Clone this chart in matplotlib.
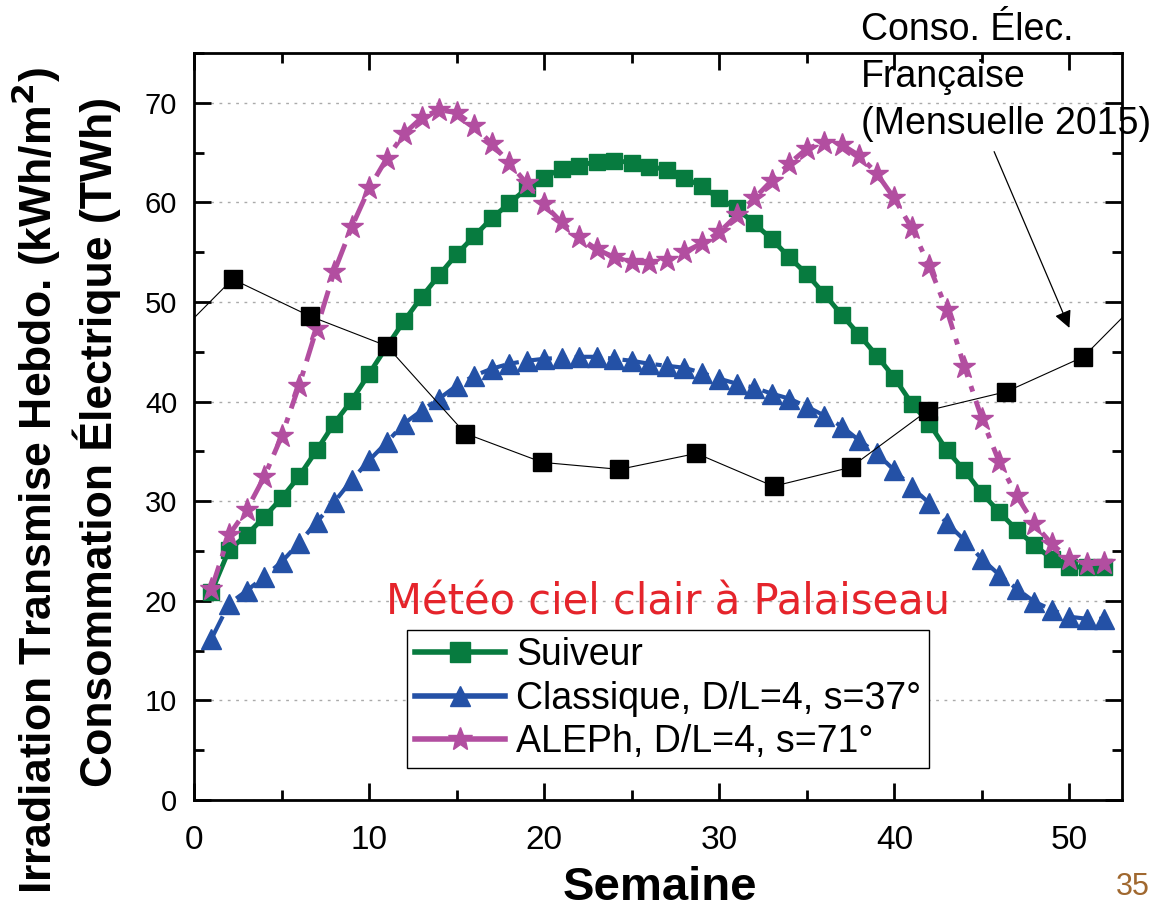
import matplotlib
matplotlib.use("Agg")
import matplotlib.pyplot as plt
from matplotlib.lines import Line2D
from matplotlib.ticker import MultipleLocator

weeks = list(range(1, 53))

suiveur = [20.9, 25.1, 26.6, 28.4, 30.3, 32.5, 35.1, 37.8, 40.1, 42.8,
           45.5, 48.1, 50.5, 52.7, 54.8, 56.6, 58.4, 59.9, 61.4, 62.5,
           63.4, 63.7, 64.1, 64.2, 64.0, 63.6, 63.3, 62.5, 61.6, 60.4,
           59.4, 57.9, 56.3, 54.5, 52.8, 50.8, 48.7, 46.7, 44.6, 42.4,
           39.8, 37.8, 35.1, 33.1, 30.8, 28.9, 27.1, 25.6, 24.2, 23.4,
           23.4, 23.4]

classique = [16.2, 19.7, 21.0, 22.4, 23.9, 25.8, 27.9, 29.9, 32.1, 34.1,
             35.9, 37.8, 39.1, 40.3, 41.6, 42.6, 43.3, 43.8, 44.1, 44.3,
             44.4, 44.5, 44.5, 44.3, 44.1, 43.8, 43.6, 43.4, 42.9, 42.3,
             41.8, 41.4, 40.8, 40.3, 39.5, 38.6, 37.5, 36.1, 34.8, 33.1,
             31.4, 29.8, 27.8, 26.1, 24.2, 22.6, 21.2, 19.9, 19.1, 18.4,
             18.2, 18.2]

aleph = [21.2, 26.6, 29.1, 32.4, 36.5, 41.6, 47.3, 53.0, 57.5, 61.4,
         64.4, 66.9, 68.5, 69.3, 69.0, 67.7, 65.9, 64.0, 61.9, 59.8,
         58.0, 56.5, 55.3, 54.5, 54.0, 53.9, 54.2, 55.0, 55.9, 57.0,
         58.7, 60.4, 62.2, 63.9, 65.4, 66.0, 65.8, 64.7, 62.9, 60.4,
         57.4, 53.6, 49.2, 43.5, 38.3, 33.9, 30.5, 27.7, 25.7, 24.2,
         23.7, 23.8]

# monthly consumption 2015, placed at mid-month (in weeks)
conso_x = [2.2, 6.6, 11.0, 15.5, 19.9, 24.3, 28.7, 33.1, 37.5, 41.9, 46.4, 50.8]
conso = [52.3, 48.6, 45.6, 36.8, 33.9, 33.2, 34.8, 31.5, 33.4, 39.1, 41.0, 44.5]

labels = ["Suiveur", "Classique, D/L=4, s=37°", "ALEPh, D/L=4, s=71°"]

green = "#077B3F"
blue = "#2451A6"
magenta = "#B24EA0"

arial = ["Liberation Sans", "DejaVu Sans"]

fig = plt.figure(figsize=(11.63, 9.11), dpi=100)
ax = fig.add_axes([0.1668, 0.1218, 0.7979, 0.82])

ax.plot(weeks, classique, color=blue, lw=3, ls=(0, (6, 2, 1.5, 2)),
        marker="^", ms=14, mec=blue, zorder=3)
ax.plot(weeks, suiveur, color=green, lw=3.5, ls="-",
        marker="s", ms=12, mec=green, zorder=4)
ax.plot(weeks, aleph, color=magenta, lw=3.5, ls=(0, (5, 2, 1.2, 2)),
        marker="*", ms=17, mec=magenta, zorder=5)

# wrap Dec -> Jan at both ends of the year
cx = [conso_x[-1] - 53] + conso_x + [conso_x[0] + 53]
cy = [conso[-1]] + conso + [conso[0]]
ax.plot(cx, cy, color="black", lw=0.8, zorder=6)
ax.plot(conso_x, conso, ls="none", marker="s", ms=13, color="black", zorder=7)

ax.set_xlim(0, 53)
ax.set_ylim(0, 75)
ax.xaxis.set_major_locator(MultipleLocator(10))
ax.xaxis.set_minor_locator(MultipleLocator(5))
ax.yaxis.set_major_locator(MultipleLocator(10))
ax.yaxis.set_minor_locator(MultipleLocator(5))
ax.tick_params(which="both", direction="in", top=True, right=True, width=2)
ax.tick_params(which="major", length=12)
ax.tick_params(which="minor", length=7)
ax.tick_params(axis="x", which="major", pad=18)
ax.tick_params(axis="y", which="major", pad=12)
for s in ax.spines.values():
    s.set_linewidth(2)

for t in ax.get_yticklabels():
    t.set_family(arial)
    t.set_fontsize(21)
for t in ax.get_xticklabels():
    t.set_family(arial)
    t.set_fontsize(24)

ax.yaxis.grid(True, which="major", ls=(0, (2, 4)), color="#aaaaaa", lw=1)
ax.set_axisbelow(True)

fig.text(0.031, 0.472, "Irradiation Transmise Hebdo. (kWh/m$^{\\mathbf{2}}$)",
         rotation=90, ha="center", va="center", fontsize=32,
         fontweight="bold", family=arial)
fig.text(0.083, 0.515, "Consommation Électrique (TWh)",
         rotation=90, ha="center", va="center", fontsize=32,
         fontweight="bold", family=arial)
fig.text(0.567, 0.025, "Semaine", ha="center", va="center", fontsize=34,
         fontweight="bold", family=arial)
fig.text(0.974, 0.026, "35", ha="center", va="center", fontsize=22,
         color="#A0682F", family=arial)

ax.text(27.1, 19.8, "Météo ciel clair à Palaiseau", ha="center", va="center",
        fontsize=30, color="#E5242B", family=["DejaVu Sans"], zorder=8)

ax.text(38.1, 72.6, "Conso. Élec.\nFrançaise\n(Mensuelle 2015)", ha="left",
        va="center", fontsize=27, family=arial, linespacing=1.38,
        clip_on=False, zorder=9)
ax.annotate("", xy=(50.0, 47.4), xytext=(45.7, 65.1),
            arrowprops=dict(arrowstyle="-|>", color="black", lw=0.9,
                            mutation_scale=26, shrinkA=0, shrinkB=0),
            zorder=9)

handles = [
    Line2D([], [], color=green, lw=4, marker="s", ms=14),
    Line2D([], [], color=blue, lw=4, marker="^", ms=15),
    Line2D([], [], color=magenta, lw=4, marker="*", ms=18),
]
leg = ax.legend(handles, labels, loc="lower left",
                bbox_to_anchor=(0.230, 0.043), prop={"family": arial, "size": 27},
                handlelength=2.4, fancybox=False, framealpha=1,
                edgecolor="black", borderpad=0.2, labelspacing=0.2,
                handletextpad=0.3, borderaxespad=0)
leg.get_frame().set_linewidth(1)
leg.set_zorder(10)

fig.savefig("out.png", dpi=100)
